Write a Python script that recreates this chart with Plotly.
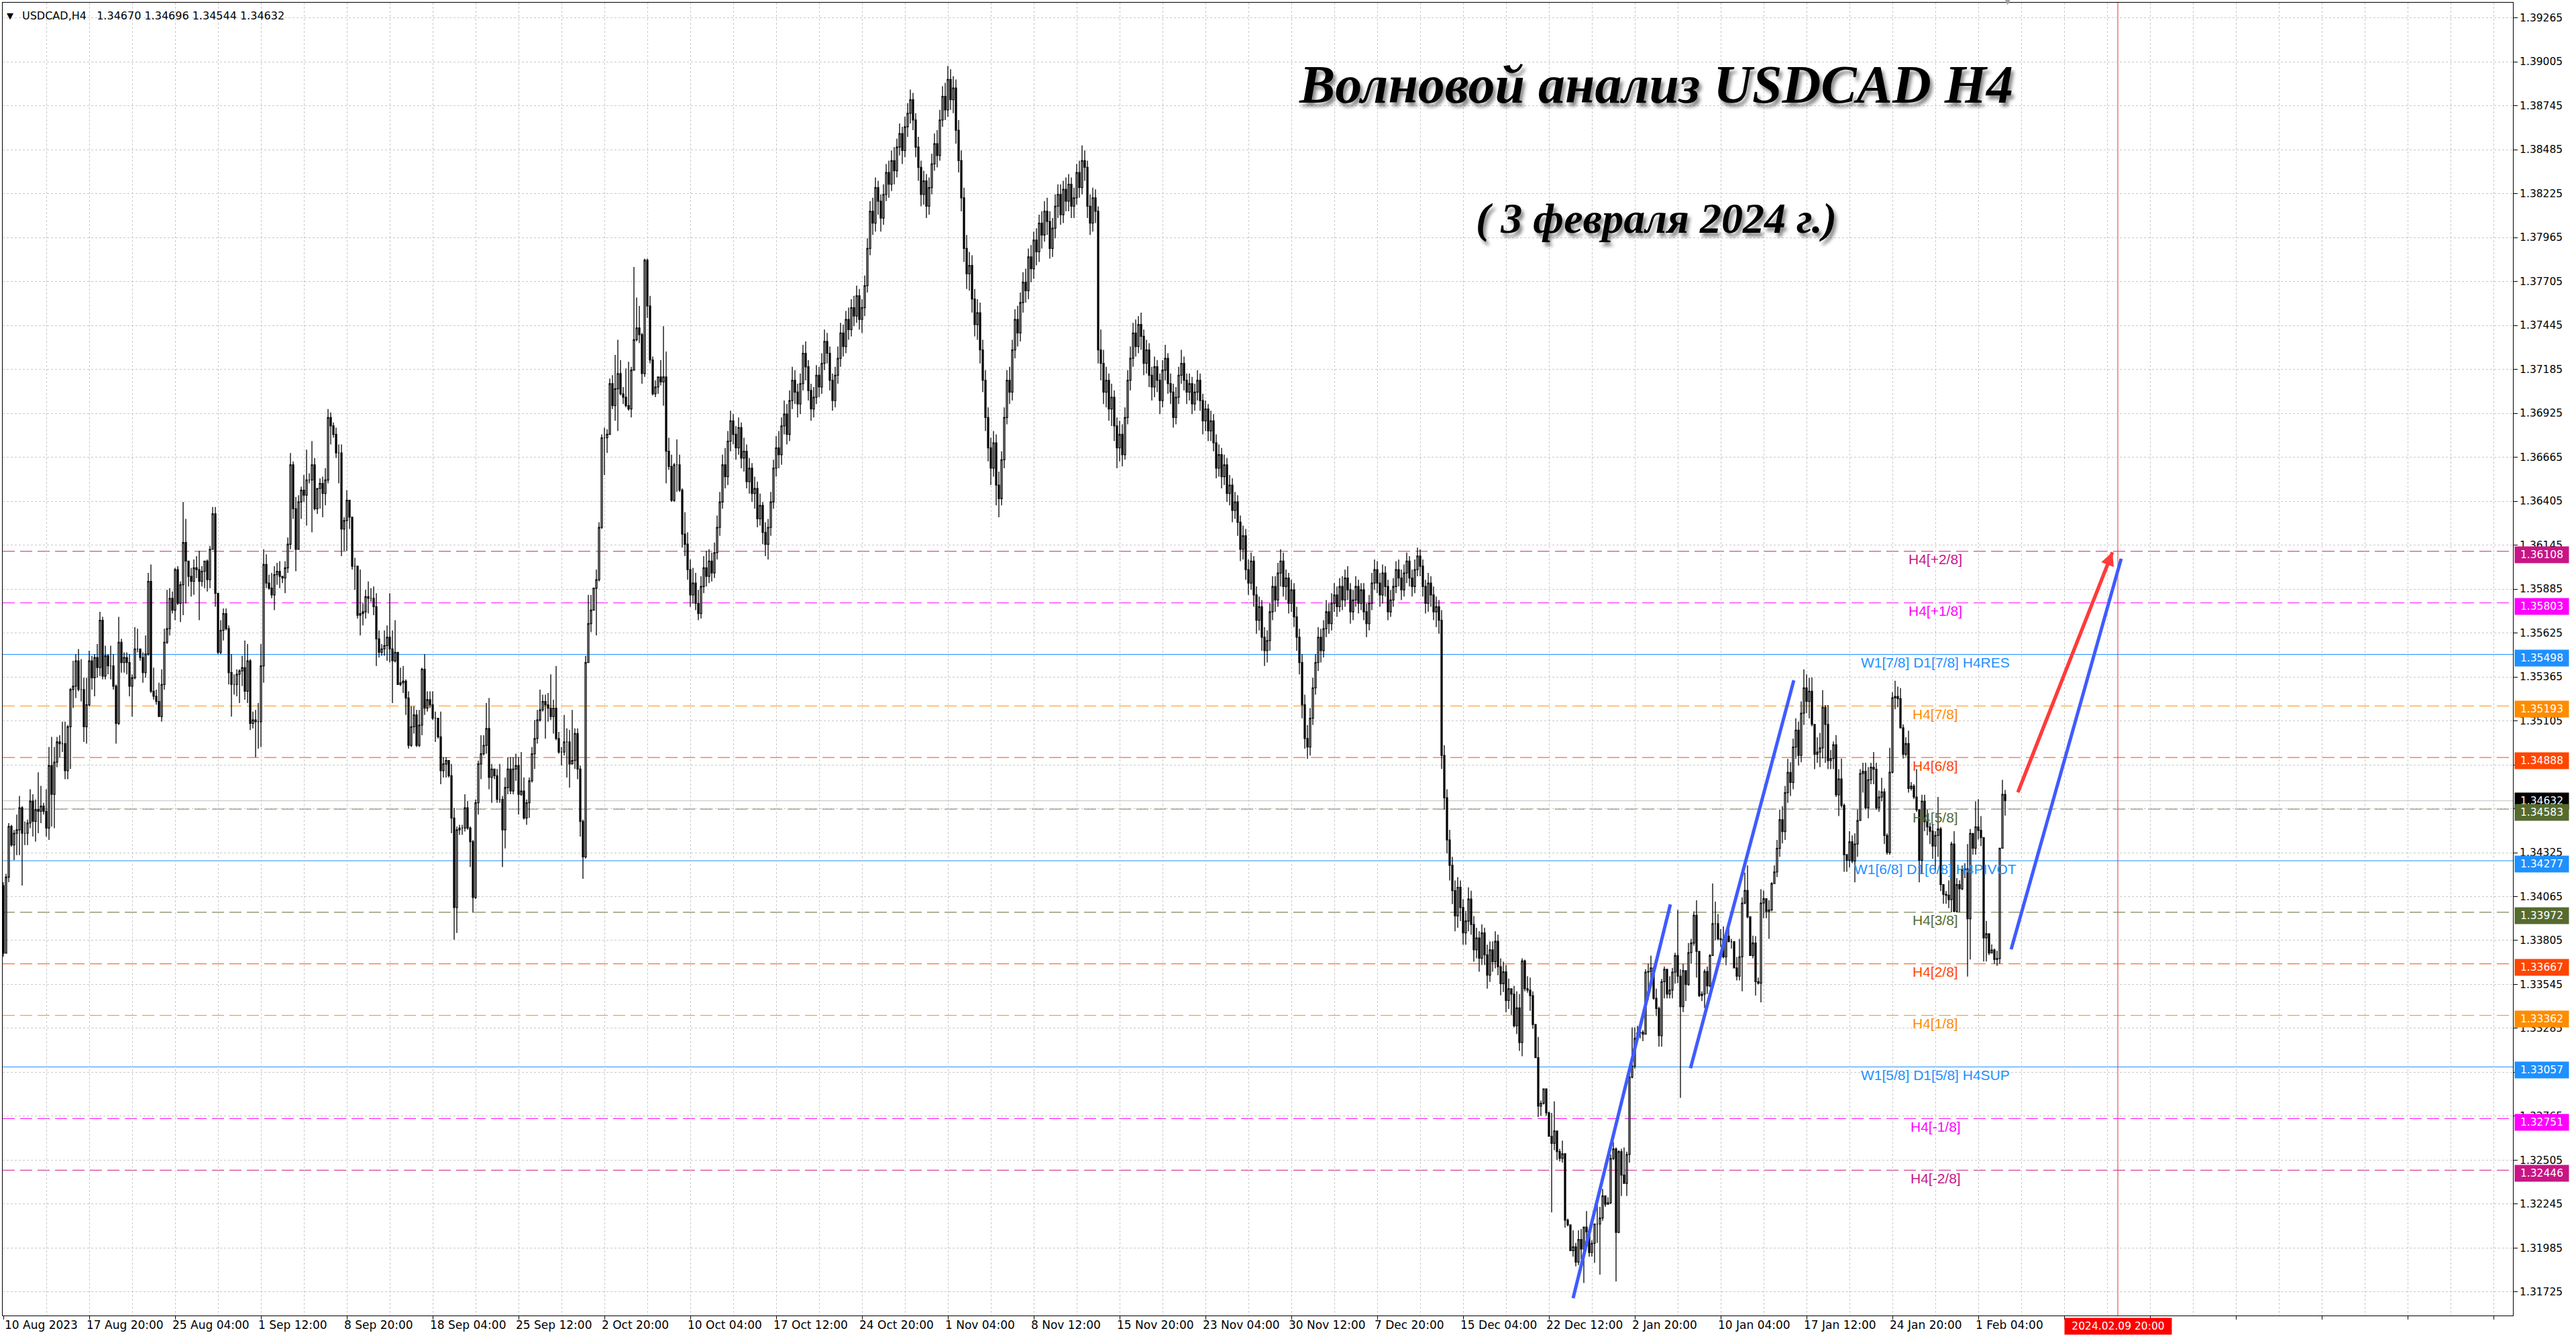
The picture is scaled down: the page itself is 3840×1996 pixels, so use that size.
import plotly.graph_objects as go

# ---------------- data ----------------
first_open = 1.3413
close = [
# 0
1.3373,1.3418,1.3448,1.3437,1.3444,1.3446,1.3459,1.3444,1.3444,1.3450,
1.3463,1.3451,1.3458,1.3457,1.3460,1.3457,1.3447,1.3484,1.3467,1.3486,
1.3498,1.3497,1.3497,1.3481,1.3507,1.3529,1.3531,1.3546,1.3529,1.3529,
1.3507,1.3520,1.3546,1.3536,1.3548,1.3542,1.3570,1.3537,1.3549,1.3543,
1.3543,1.3531,1.3509,1.3557,1.3545,1.3548,1.3545,1.3531,1.3536,1.3553,
# 50
1.3553,1.3548,1.3539,1.3550,1.3593,1.3528,1.3525,1.3522,1.3513,1.3532,
1.3557,1.3565,1.3583,1.3576,1.3600,1.3580,1.3591,1.3616,1.3605,1.3596,
1.3593,1.3601,1.3600,1.3593,1.3599,1.3605,1.3594,1.3612,1.3633,1.3586,
1.3551,1.3564,1.3574,1.3565,1.3539,1.3532,1.3532,1.3538,1.3540,1.3542,
1.3528,1.3546,1.3509,1.3511,1.3510,1.3510,1.3543,1.3603,1.3592,1.3589,
# 100
1.3585,1.3597,1.3599,1.3596,1.3595,1.3601,1.3615,1.3662,1.3636,1.3612,
1.3640,1.3647,1.3644,1.3653,1.3653,1.3662,1.3636,1.3648,1.3651,1.3645,
1.3653,1.3690,1.3685,1.3680,1.3669,1.3669,1.3624,1.3629,1.3641,1.3631,
1.3602,1.3602,1.3573,1.3574,1.3575,1.3584,1.3583,1.3583,1.3578,1.3559,
1.3551,1.3553,1.3555,1.3560,1.3553,1.3546,1.3551,1.3532,1.3533,1.3534,
# 150
1.3524,1.3496,1.3507,1.3514,1.3496,1.3508,1.3541,1.3518,1.3523,1.3520,
1.3512,1.3512,1.3501,1.3481,1.3485,1.3487,1.3478,1.3453,1.3400,1.3446,
1.3447,1.3447,1.3459,1.3447,1.3439,1.3406,1.3462,1.3485,1.3491,1.3496,
1.3506,1.3477,1.3482,1.3478,1.3464,1.3464,1.3446,1.3471,1.3482,1.3469,
1.3482,1.3484,1.3467,1.3469,1.3453,1.3462,1.3475,1.3491,1.3500,1.3511,
# 200
1.3517,1.3522,1.3520,1.3518,1.3513,1.3518,1.3500,1.3492,1.3492,1.3498,
1.3498,1.3485,1.3487,1.3503,1.3482,1.3451,1.3430,1.3545,1.3568,1.3576,
1.3589,1.3594,1.3625,1.3678,1.3678,1.3680,1.3710,1.3697,1.3707,1.3716,
1.3704,1.3702,1.3697,1.3695,1.3718,1.3736,1.3743,1.3739,1.3716,1.3783,
1.3756,1.3724,1.3704,1.3708,1.3714,1.3711,1.3714,1.3670,1.3661,1.3641,
# 250
1.3662,1.3662,1.3647,1.3621,1.3615,1.3600,1.3585,1.3592,1.3580,1.3574,
1.3590,1.3601,1.3596,1.3605,1.3598,1.3610,1.3625,1.3640,1.3662,1.3655,
1.3676,1.3688,1.3680,1.3672,1.3684,1.3666,1.3670,1.3652,1.3660,1.3645,
1.3648,1.3630,1.3638,1.3622,1.3615,1.3625,1.3640,1.3660,1.3672,1.3668,
1.3685,1.3692,1.3680,1.3700,1.3712,1.3705,1.3698,1.3710,1.3728,1.3720,
# 300
1.3706,1.3695,1.3702,1.3715,1.3708,1.3722,1.3735,1.3728,1.3712,1.3700,
1.3715,1.3725,1.3740,1.3732,1.3748,1.3742,1.3755,1.3750,1.3762,1.3748,
1.3755,1.3768,1.3790,1.3812,1.3805,1.3826,1.3818,1.3808,1.3822,1.3835,
1.3828,1.3842,1.3836,1.3850,1.3858,1.3848,1.3862,1.3870,1.3878,1.3866,
1.3850,1.3838,1.3822,1.3830,1.3815,1.3826,1.3840,1.3852,1.3845,1.3866,
# 350
1.3880,1.3872,1.3890,1.3878,1.3885,1.3860,1.3842,1.3820,1.3790,1.3775,
1.3780,1.3760,1.3745,1.3752,1.3730,1.3712,1.3690,1.3672,1.3660,1.3675,
1.3650,1.3642,1.3665,1.3690,1.3712,1.3705,1.3730,1.3748,1.3740,1.3758,
1.3770,1.3765,1.3785,1.3778,1.3795,1.3788,1.3805,1.3798,1.3812,1.3806,
1.3790,1.3802,1.3815,1.3822,1.3810,1.3825,1.3818,1.3828,1.3815,1.3820,
# 400
1.3835,1.3826,1.3842,1.3838,1.3815,1.3805,1.3820,1.3812,1.3730,1.3722,
1.3705,1.3712,1.3695,1.3702,1.3685,1.3672,1.3680,1.3668,1.3690,1.3712,
1.3725,1.3740,1.3732,1.3745,1.3738,1.3722,1.3730,1.3715,1.3708,1.3720,
1.3712,1.3700,1.3718,1.3725,1.3710,1.3705,1.3690,1.3702,1.3715,1.3722,
1.3712,1.3705,1.3710,1.3698,1.3705,1.3712,1.3700,1.3688,1.3695,1.3682,
# 450
1.3688,1.3675,1.3660,1.3668,1.3655,1.3662,1.3645,1.3650,1.3635,1.3640,
1.3628,1.3612,1.3620,1.3600,1.3592,1.3605,1.3585,1.3570,1.3578,1.3560,
1.3552,1.3558,1.3575,1.3590,1.3582,1.3598,1.3605,1.3590,1.3595,1.3580,
1.3588,1.3572,1.3560,1.3545,1.3520,1.3500,1.3495,1.3512,1.3530,1.3545,
1.3560,1.3552,1.3565,1.3575,1.3568,1.3580,1.3585,1.3578,1.3590,1.3582,
# 500
1.3595,1.3588,1.3575,1.3582,1.3590,1.3580,1.3588,1.3575,1.3568,1.3580,
1.3592,1.3600,1.3592,1.3585,1.3598,1.3590,1.3575,1.3582,1.3590,1.3600,
1.3595,1.3588,1.3598,1.3605,1.3595,1.3590,1.3600,1.3608,1.3602,1.3590,
1.3580,1.3592,1.3585,1.3575,1.3578,1.3570,1.3490,1.3465,1.3440,1.3425,
1.3410,1.3395,1.3412,1.3400,1.3385,1.3392,1.3405,1.3390,1.3375,1.3382,
# 550
1.3370,1.3385,1.3372,1.3360,1.3375,1.3368,1.3380,1.3365,1.3355,1.3362,
1.3345,1.3352,1.33488,1.33300,1.33406,1.33201,1.33684,1.33520,1.33512,1.33479,
1.33308,1.33112,1.32825,1.32842,1.32927,1.32785,1.32646,1.32605,1.32678,1.32556,
1.32515,1.32543,1.32150,1.32122,1.31970,1.31992,1.31902,1.32036,1.31980,1.32109,
1.32081,1.31959,1.32013,1.32127,1.32127,1.32163,1.32294,1.32245,1.32253,1.32515,
# 600
1.32572,1.32078,1.32556,1.32417,1.32368,1.32539,1.32997,1.33062,1.33226,1.33259,
1.33262,1.33251,1.33618,1.33622,1.33643,1.33463,1.33403,1.33242,1.33561,1.33635,
1.33488,1.33512,1.33618,1.33716,1.33594,1.33414,1.33627,1.33545,1.33733,1.33790,
1.33954,1.33741,1.33479,1.33488,1.33622,1.33537,1.33716,1.33905,1.33905,1.33815,
1.33811,1.33708,1.33831,1.33798,1.33798,1.33643,1.33594,1.33708,1.34027,1.34101,
# 650
1.33945,1.33716,1.33790,1.33561,1.33553,1.34027,1.34052,1.33978,1.33986,1.34142,
1.34210,1.3435,1.3452,1.3445,1.3468,1.3480,1.3474,1.3495,1.3505,1.3490,
1.3515,1.3530,1.3522,1.3528,1.35084,1.34907,1.34920,1.34945,1.35185,1.35084,
1.34869,1.34882,1.34963,1.34667,1.34761,1.34604,1.34313,1.34280,1.34389,1.34275,
1.34376,1.34515,1.34793,1.34806,1.34591,1.34756,1.34831,1.34819,1.34591,1.34654,
# 700
1.34685,1.34427,1.34326,1.34801,1.35241,1.35249,1.35236,1.35064,1.34907,1.34970,
1.34705,1.34718,1.34654,1.34579,1.34280,1.34629,1.34508,1.34477,1.34452,1.34364,
1.34427,1.34465,1.34136,1.34078,1.34073,1.34047,1.34376,1.33977,1.34136,1.34111,
1.34224,1.34229,1.33934,1.34439,1.34351,1.34477,1.34457,1.34414,1.33820,1.33845,
1.33731,1.33749,1.33693,1.33698,1.34351,1.34670,1.34632,
]
high = [
# 0
1.3415,1.3420,1.3450,1.3449,1.3446,1.3455,1.3466,1.3460,1.3451,1.3452,
1.3470,1.3467,1.3464,1.3480,1.3472,1.3462,1.3470,1.3495,1.3501,1.3495,
1.3501,1.3502,1.3510,1.3510,1.3508,1.3530,1.3546,1.3550,1.3553,1.3547,
1.3536,1.3536,1.3552,1.3549,1.3550,1.3556,1.3575,1.3572,1.3555,1.3550,
1.3555,1.3550,1.3532,1.3572,1.3559,1.3551,1.3551,1.3550,1.3538,1.3566,
# 50
1.3565,1.3553,1.3551,1.3561,1.3598,1.3603,1.3542,1.3529,1.3533,1.3541,
1.3565,1.3588,1.3589,1.3587,1.3601,1.3602,1.3593,1.3640,1.3630,1.3600,
1.3601,1.3606,1.3608,1.3611,1.3602,1.3605,1.3606,1.3614,1.3637,1.3637,
1.3586,1.3570,1.3577,1.3577,1.3567,1.3550,1.3538,1.3541,1.3541,1.3549,
1.3558,1.3556,1.3547,1.3516,1.3517,1.3521,1.3556,1.3612,1.3609,1.3597,
# 100
1.3598,1.3602,1.3604,1.3605,1.3596,1.3605,1.3619,1.3669,1.3664,1.3643,
1.3644,1.3649,1.3656,1.3671,1.3657,1.3676,1.3666,1.3648,1.3654,1.3655,
1.3660,1.3695,1.3693,1.3687,1.3684,1.3674,1.3674,1.3631,1.3647,1.3636,
1.3630,1.3607,1.3602,1.3600,1.3580,1.3588,1.3593,1.3589,1.3590,1.3586,
1.3564,1.3556,1.3564,1.3567,1.3586,1.3564,1.3570,1.3550,1.3542,1.3543,
# 150
1.3535,1.3528,1.3519,1.3519,1.3517,1.3517,1.3542,1.3550,1.3528,1.3528,
1.3528,1.3516,1.3512,1.3516,1.3489,1.3489,1.3487,1.3485,1.3459,1.3448,
1.3449,1.3449,1.3467,1.3463,1.3448,1.3440,1.3464,1.3487,1.3502,1.3502,
1.3521,1.3524,1.3485,1.3482,1.3482,1.3485,1.3466,1.3477,1.3489,1.3489,
1.3489,1.3491,1.3489,1.3492,1.3477,1.3464,1.3477,1.3495,1.3511,1.3517,
# 200
1.3529,1.3526,1.3526,1.3527,1.3538,1.3523,1.3543,1.3504,1.3495,1.3514,
1.3506,1.3505,1.3517,1.3506,1.3506,1.3484,1.3452,1.3549,1.3585,1.3585,
1.3589,1.3600,1.3628,1.3680,1.3684,1.3683,1.3713,1.3715,1.3727,1.3736,
1.3724,1.3708,1.3719,1.3723,1.3720,1.3779,1.3761,1.3756,1.3740,1.3784,
1.3784,1.3762,1.3726,1.3712,1.3714,1.3724,1.3744,1.3729,1.3678,1.3668,
# 250
1.3663,1.3677,1.3668,1.3648,1.3634,1.3622,1.3606,1.3601,1.3598,1.3588,
1.3596,1.3608,1.3611,1.3612,1.3610,1.3616,1.3632,1.3646,1.3668,1.3672,
1.3682,1.3694,1.3692,1.3685,1.3690,1.3687,1.3678,1.3674,1.3666,1.3663,
1.3655,1.3652,1.3645,1.3640,1.3628,1.3630,1.3646,1.3665,1.3679,1.3682,
1.3690,1.3700,1.3698,1.3706,1.3720,1.3718,1.3710,1.3716,1.3733,1.3735,
# 300
1.3724,1.3710,1.3708,1.3721,1.3720,1.3728,1.3742,1.3740,1.3732,1.3716,
1.3720,1.3732,1.3746,1.3745,1.3753,1.3755,1.3760,1.3762,1.3768,1.3766,
1.3760,1.3774,1.3796,1.3818,1.3820,1.3832,1.3830,1.3822,1.3828,1.3840,
1.3842,1.3848,1.3850,1.3855,1.3864,1.3862,1.3868,1.3876,1.3884,1.3882,
1.3870,1.3856,1.3842,1.3836,1.3834,1.3832,1.3846,1.3858,1.3860,1.3872,
# 350
1.3886,1.3888,1.3898,1.3896,1.3892,1.3890,1.3866,1.3848,1.3826,1.3798,
1.3788,1.3786,1.3766,1.3760,1.3758,1.3736,1.3718,1.3696,1.3678,1.3682,
1.3680,1.3658,1.3670,1.3696,1.3718,1.3720,1.3736,1.3754,1.3756,1.3764,
1.3776,1.3778,1.3790,1.3792,1.3800,1.3802,1.3810,1.3812,1.3818,1.3820,
1.3812,1.3808,1.3822,1.3828,1.3828,1.3830,1.3832,1.3834,1.3832,1.3826,
# 400
1.3840,1.3842,1.3851,1.3848,1.3842,1.3822,1.3826,1.3825,1.3815,1.3742,
1.3730,1.3720,1.3716,1.3710,1.3706,1.3690,1.3688,1.3686,1.3696,1.3718,
1.3732,1.3746,1.3748,1.3750,1.3752,1.3742,1.3736,1.3734,1.3720,1.3726,
1.3724,1.3716,1.3724,1.3733,1.3728,1.3716,1.3710,1.3708,1.3720,1.3730,
1.3726,1.3716,1.3716,1.3714,1.3710,1.3718,1.3716,1.3704,1.3700,1.3698,
# 450
1.3694,1.3692,1.3680,1.3674,1.3672,1.3668,1.3666,1.3656,1.3654,1.3646,
1.3644,1.3632,1.3626,1.3624,1.3606,1.3610,1.3608,1.3590,1.3584,1.3582,
1.3566,1.3564,1.3580,1.3596,1.3596,1.3604,1.3612,1.3610,1.3600,1.3598,
1.3594,1.3592,1.3578,1.3565,1.3550,1.3526,1.3508,1.3518,1.3536,1.3550,
1.3566,1.3565,1.3570,1.3582,1.3580,1.3586,1.3592,1.3590,1.3595,1.3596,
# 500
1.3600,1.3602,1.3592,1.3588,1.3596,1.3594,1.3592,1.3592,1.3580,1.3585,
1.3598,1.3606,1.3605,1.3598,1.3603,1.3602,1.3594,1.3588,1.3595,1.3605,
1.3606,1.3600,1.3603,1.3610,1.3608,1.3600,1.3606,1.3613,1.3612,1.3606,
1.3594,1.3598,1.3596,1.3590,1.3584,1.3582,1.3576,1.3496,1.3470,1.3446,
1.3430,1.3416,1.3418,1.3416,1.3405,1.3398,1.3412,1.3410,1.3395,1.3388,
# 550
1.3386,1.3390,1.3388,1.3378,1.3380,1.3380,1.3386,1.3384,1.3370,1.3368,
1.3366,1.3358,1.33512,1.33537,1.33504,1.33488,1.33700,1.33692,1.33594,1.33586,
1.33504,1.33311,1.33234,1.32858,1.32927,1.32927,1.32793,1.32785,1.32853,1.32572,
1.32572,1.32621,1.32548,1.32160,1.32122,1.32090,1.32016,1.32090,1.32098,1.32109,
1.32204,1.32098,1.32032,1.32131,1.32270,1.32229,1.32335,1.32270,1.32286,1.32539,
# 600
1.32613,1.32580,1.32564,1.32572,1.32580,1.32556,1.33046,1.33291,1.33291,1.33300,
1.33283,1.33275,1.33635,1.33667,1.33716,1.33643,1.33520,1.33414,1.33578,1.33651,
1.33635,1.33594,1.33643,1.33733,1.33986,1.33635,1.33667,1.33627,1.33790,1.33815,
1.33978,1.34043,1.33741,1.33504,1.33635,1.33651,1.33725,1.34142,1.34035,1.33962,
1.33872,1.33888,1.33856,1.33872,1.33815,1.33798,1.33708,1.33815,1.34060,1.34207,
# 650
1.34250,1.33913,1.33834,1.33831,1.33586,1.34109,1.34101,1.34043,1.34043,1.34150,
1.34250,1.3440,1.3458,1.3460,1.3472,1.3488,1.3486,1.3500,1.3512,1.3510,
1.3522,1.3541,1.3538,1.3536,1.35362,1.35084,1.35008,1.35034,1.35287,1.35198,
1.35198,1.34932,1.34983,1.35021,1.34819,1.34882,1.34616,1.34313,1.34452,1.34427,
1.34439,1.34579,1.34819,1.34857,1.34857,1.34831,1.34857,1.34920,1.34857,1.34692,
# 700
1.34768,1.34705,1.34439,1.34945,1.35274,1.35342,1.35307,1.35299,1.35084,1.35008,
1.35046,1.34743,1.34730,1.34819,1.34579,1.34667,1.34667,1.34579,1.34503,1.34490,
1.34452,1.34654,1.34477,1.34136,1.34098,1.34161,1.34389,1.34452,1.34174,1.34161,
1.34250,1.34262,1.34376,1.34465,1.34427,1.34629,1.34642,1.34541,1.34414,1.33921,
1.33820,1.33782,1.33757,1.33744,1.34351,1.34756,1.34696,
]
low = [
# 0
1.3371,1.3376,1.3415,1.3436,1.3428,1.3431,1.3431,1.3413,1.3437,1.3437,
1.3447,1.3442,1.3439,1.3444,1.3450,1.3455,1.3442,1.3440,1.3448,1.3447,
1.3483,1.3489,1.3492,1.3476,1.3476,1.3482,1.3518,1.3524,1.3528,1.3522,
1.3498,1.3497,1.3519,1.3529,1.3525,1.3536,1.3537,1.3535,1.3535,1.3538,
1.3535,1.3529,1.3497,1.3508,1.3539,1.3539,1.3538,1.3525,1.3513,1.3535,
# 50
1.3551,1.3546,1.3533,1.3536,1.3549,1.3527,1.3523,1.3520,1.3513,1.3510,
1.3529,1.3556,1.3561,1.3574,1.3570,1.3579,1.3569,1.3573,1.3580,1.3590,
1.3584,1.3585,1.3595,1.3570,1.3590,1.3589,1.3587,1.3589,1.3612,1.3578,
1.3550,1.3550,1.3558,1.3564,1.3532,1.3513,1.3526,1.3525,1.3521,1.3531,
1.3523,1.3521,1.3505,1.3506,1.3489,1.3494,1.3495,1.3533,1.3589,1.3588,
# 100
1.3583,1.3576,1.3591,1.3589,1.3592,1.3586,1.3598,1.3612,1.3630,1.3599,
1.3612,1.3630,1.3640,1.3626,1.3651,1.3622,1.3635,1.3633,1.3636,1.3631,
1.3638,1.3651,1.3674,1.3678,1.3666,1.3651,1.3608,1.3611,1.3611,1.3624,
1.3600,1.3588,1.3571,1.3561,1.3567,1.3571,1.3574,1.3581,1.3573,1.3543,
1.3548,1.3549,1.3549,1.3546,1.3545,1.3521,1.3545,1.3532,1.3531,1.3527,
# 150
1.3514,1.3494,1.3495,1.3503,1.3495,1.3495,1.3502,1.3514,1.3516,1.3518,
1.3511,1.3498,1.3500,1.3473,1.3477,1.3477,1.3477,1.3444,1.3381,1.3385,
1.3443,1.3443,1.3445,1.3446,1.3424,1.3397,1.3405,1.3455,1.3476,1.3490,
1.3491,1.3470,1.3462,1.3476,1.3462,1.3462,1.3424,1.3435,1.3467,1.3467,
1.3467,1.3475,1.3455,1.3466,1.3452,1.3449,1.3453,1.3474,1.3482,1.3497,
# 200
1.3510,1.3516,1.3500,1.3510,1.3511,1.3503,1.3499,1.3491,1.3484,1.3490,
1.3477,1.3471,1.3485,1.3482,1.3476,1.3442,1.3417,1.3429,1.3545,1.3563,
1.3576,1.3561,1.3593,1.3624,1.3656,1.3669,1.3680,1.3695,1.3688,1.3682,
1.3703,1.3698,1.3696,1.3694,1.3690,1.3718,1.3735,1.3734,1.3710,1.3714,
1.3749,1.3722,1.3703,1.3702,1.3704,1.3709,1.3697,1.3651,1.3659,1.3640,
# 250
1.3640,1.3646,1.3646,1.3613,1.3608,1.3594,1.3578,1.3580,1.3576,1.3570,
1.3571,1.3586,1.3590,1.3592,1.3593,1.3595,1.3606,1.3620,1.3636,1.3648,
1.3650,1.3670,1.3674,1.3665,1.3668,1.3660,1.3658,1.3648,1.3645,1.3640,
1.3636,1.3625,1.3626,1.3615,1.3608,1.3606,1.3620,1.3636,1.3655,1.3660,
1.3662,1.3680,1.3674,1.3676,1.3695,1.3698,1.3690,1.3692,1.3706,1.3712,
# 300
1.3700,1.3688,1.3690,1.3698,1.3702,1.3704,1.3718,1.3722,1.3706,1.3694,
1.3696,1.3710,1.3720,1.3726,1.3728,1.3736,1.3738,1.3744,1.3746,1.3742,
1.3740,1.3750,1.3764,1.3786,1.3798,1.3800,1.3810,1.3800,1.3804,1.3818,
1.3820,1.3824,1.3828,1.3832,1.3845,1.3840,1.3844,1.3856,1.3864,1.3860,
1.3844,1.3830,1.3815,1.3816,1.3808,1.3810,1.3822,1.3836,1.3838,1.3842,
# 350
1.3862,1.3866,1.3868,1.3872,1.3870,1.3852,1.3835,1.3812,1.3782,1.3766,
1.3765,1.3752,1.3738,1.3736,1.3722,1.3705,1.3682,1.3664,1.3650,1.3655,
1.3638,1.3631,1.3638,1.3660,1.3686,1.3698,1.3700,1.3725,1.3732,1.3735,
1.3752,1.3758,1.3760,1.3770,1.3772,1.3780,1.3782,1.3790,1.3794,1.3798,
1.3784,1.3785,1.3796,1.3808,1.3804,1.3805,1.3812,1.3812,1.3808,1.3808,
# 400
1.3816,1.3820,1.3822,1.3830,1.3808,1.3798,1.3800,1.3805,1.3722,1.3712,
1.3698,1.3696,1.3688,1.3685,1.3676,1.3660,1.3664,1.3661,1.3665,1.3686,
1.3706,1.3720,1.3726,1.3728,1.3730,1.3715,1.3716,1.3708,1.3700,1.3702,
1.3705,1.3692,1.3696,1.3712,1.3704,1.3698,1.3684,1.3686,1.3698,1.3710,
1.3706,1.3698,1.3700,1.3692,1.3694,1.3700,1.3694,1.3680,1.3682,1.3676,
# 450
1.3676,1.3670,1.3654,1.3655,1.3648,1.3650,1.3640,1.3638,1.3628,1.3630,
1.3620,1.3605,1.3606,1.3594,1.3585,1.3588,1.3578,1.3562,1.3564,1.3552,
1.3543,1.3545,1.3552,1.3570,1.3575,1.3578,1.3590,1.3584,1.3582,1.3574,
1.3575,1.3566,1.3552,1.3538,1.3512,1.3494,1.3488,1.3490,1.3508,1.3526,
1.3540,1.3545,1.3548,1.3560,1.3562,1.3564,1.3575,1.3572,1.3575,1.3576,
# 500
1.3578,1.3582,1.3568,1.3570,1.3578,1.3574,1.3576,1.3570,1.3560,1.3564,
1.3576,1.3588,1.3586,1.3578,1.3580,1.3584,1.3570,1.3572,1.3578,1.3586,
1.3590,1.3582,1.3584,1.3592,1.3590,1.3584,1.3586,1.3596,1.3596,1.3584,
1.3574,1.3575,1.3578,1.3570,1.3566,1.3562,1.3482,1.3458,1.3432,1.3416,
1.3402,1.3386,1.3388,1.3392,1.3378,1.3378,1.3386,1.3384,1.3368,1.3370,
# 550
1.3362,1.3366,1.3366,1.3352,1.3356,1.3362,1.3364,1.3360,1.3348,1.3350,
1.3338,1.3340,1.33365,1.33291,1.33251,1.33152,1.33120,1.33504,1.33496,1.33389,
1.33283,1.33112,1.32760,1.32768,1.32834,1.32768,1.32646,1.32196,1.32564,1.32507,
1.32498,1.32490,1.32106,1.32114,1.31970,1.31934,1.31877,1.31885,1.31918,1.31779,
1.32032,1.31934,1.31934,1.31898,1.32016,1.31828,1.32147,1.32229,1.32245,1.32245,
# 600
1.32507,1.31787,1.32073,1.32294,1.32368,1.32294,1.32490,1.32989,1.33046,1.33226,
1.33226,1.33210,1.33259,1.33455,1.33553,1.33455,1.33357,1.33177,1.33177,1.33463,
1.33463,1.33463,1.33463,1.33550,1.33553,1.32874,1.33381,1.33447,1.33537,1.33667,
1.33774,1.33586,1.33471,1.33447,1.33406,1.33488,1.33528,1.33716,1.33806,1.33806,
1.33766,1.33700,1.33659,1.33798,1.33757,1.33643,1.33569,1.33569,1.33504,1.34019,
# 650
1.33937,1.33716,1.33700,1.33479,1.33545,1.33439,1.33937,1.33937,1.33815,1.33978,
1.34140,1.3418,1.3430,1.3438,1.3440,1.3462,1.3466,1.3470,1.3488,1.3484,
1.3486,1.3508,1.3515,1.3512,1.35072,1.34819,1.34857,1.34831,1.34882,1.34857,
1.34819,1.34819,1.34819,1.34654,1.34541,1.34591,1.34212,1.34212,1.34237,1.34262,
1.34149,1.34300,1.34515,1.34680,1.34579,1.34528,1.34730,1.34730,1.34579,1.34566,
# 700
1.34629,1.34376,1.34313,1.34313,1.34793,1.35173,1.35185,1.35059,1.34882,1.34895,
1.34680,1.34692,1.34642,1.34566,1.34149,1.34199,1.34452,1.34427,1.34376,1.34288,
1.34224,1.34300,1.34098,1.34022,1.34022,1.33997,1.33972,1.33972,1.33972,1.33972,
1.34103,1.34174,1.33592,1.33693,1.34313,1.34313,1.34402,1.34364,1.33681,1.33681,
1.33719,1.33731,1.33668,1.33655,1.33668,1.34427,1.34544,
]

x_tick_labels = ["10 Aug 2023", "17 Aug 20:00", "25 Aug 04:00", "1 Sep 12:00", "8 Sep 20:00",
                 "18 Sep 04:00", "25 Sep 12:00", "2 Oct 20:00", "10 Oct 04:00", "17 Oct 12:00",
                 "24 Oct 20:00", "1 Nov 04:00", "8 Nov 12:00", "15 Nov 20:00", "23 Nov 04:00",
                 "30 Nov 12:00", "7 Dec 20:00", "15 Dec 04:00", "22 Dec 12:00", "2 Jan 20:00",
                 "10 Jan 04:00", "17 Jan 12:00", "24 Jan 20:00", "1 Feb 04:00"]
x_label_step = 32
grid_step = 16

y_tick_values = [1.39265, 1.39005, 1.38745, 1.38485, 1.38225, 1.37965, 1.37705, 1.37445,
                 1.37185, 1.36925, 1.36665, 1.36405, 1.36145, 1.35885, 1.35625, 1.35365,
                 1.35105, 1.34845, 1.34585, 1.34325, 1.34065, 1.33805, 1.33545, 1.33285,
                 1.33025, 1.32765, 1.32505, 1.32245, 1.31985, 1.31725]

level_values = [1.36108, 1.35803, 1.35498, 1.35193, 1.34888, 1.34583, 1.34277,
                1.33972, 1.33667, 1.33362, 1.33057, 1.32751, 1.32446]
level_names = ["H4[+2/8]", "H4[+1/8]", "W1[7/8] D1[7/8] H4RES", "H4[7/8]", "H4[6/8]",
               "H4[5/8]", "W1[6/8] D1[6/8] H4PIVOT", "H4[3/8]", "H4[2/8]", "H4[1/8]",
               "W1[5/8] D1[5/8] H4SUP", "H4[-1/8]", "H4[-2/8]"]
level_colors = ["#C71585", "#FF00FF", "#1E90FF", "#FF8C00", "#FF4500", "#556B2F", "#1E90FF",
                "#556B2F", "#FF4500", "#FF8C00", "#1E90FF", "#FF00FF", "#C71585"]
level_solid = [False, False, True, False, False, False, True,
               False, False, False, True, False, False]
level_label_bar = 720

header_text = "USDCAD,H4\u00a0\u00a0 1.34670 1.34696 1.34544 1.34632"
current_price = 1.34632
future_line_bar = 788
future_line_label = "2024.02.09 20:00"

wave_x0 = [585.0, 628.75, 748.25]
wave_y0 = [1.31689, 1.33049, 1.33753]
wave_x1 = [621.25, 667.25, 789.25]
wave_y1 = [1.34019, 1.35345, 1.36064]
arrow_x0, arrow_y0 = 750.75, 1.34682
arrow_x1, arrow_y1 = 786.0, 1.36103

title_1 = "Волновой анализ USDCAD H4"
title_2 = "( 3 февраля 2024 г.)"

# ---------------- build ----------------
n = min(len(close), len(high), len(low))
close, high, low = close[:n], high[:n], low[:n]
bars = list(range(n))
opens = [first_open] + close[:-1]
highs = [max(h, o, c) for h, o, c in zip(high, opens, close)]
lows = [min(l, o, c) for l, o, c in zip(low, opens, close)]

W, H = 3840, 1996
ML, MR, MT, MB = 4, 94, 4, 35
X_MIN, X_MAX = -0.25, 935.25
Y_MIN, Y_MAX = 1.315860, 1.393544

fig = go.Figure()

fig.add_trace(go.Candlestick(
    x=bars, open=opens, high=highs, low=lows, close=close,
    increasing=dict(line=dict(color="black", width=1.3), fillcolor="white"),
    decreasing=dict(line=dict(color="black", width=1.3), fillcolor="black"),
    whiskerwidth=0, showlegend=False, hoverinfo="skip"))

for x0, y0, x1, y1 in zip(wave_x0, wave_y0, wave_x1, wave_y1):
    fig.add_trace(go.Scatter(x=[x0, x1], y=[y0, y1], mode="lines",
                             line=dict(color="#3F5BFF", width=5),
                             showlegend=False, hoverinfo="skip"))
fig.add_trace(go.Scatter(x=[arrow_x0, arrow_x1], y=[arrow_y0, arrow_y1], mode="lines",
                         line=dict(color="#FF3B3B", width=5),
                         showlegend=False, hoverinfo="skip"))

shapes = []
for v, c, solid in zip(level_values, level_colors, level_solid):
    shapes.append(dict(type="line", xref="paper", x0=0, x1=1, yref="y", y0=v, y1=v,
                       line=dict(color=c, width=1, dash="solid" if solid else "18px,8px"),
                       layer="below"))
shapes.append(dict(type="line", xref="paper", x0=0, x1=1, yref="y", y0=current_price,
                   y1=current_price, line=dict(color="#C0C0C0", width=1), layer="below"))
shapes.append(dict(type="line", xref="x", x0=future_line_bar, x1=future_line_bar,
                   yref="paper", y0=0, y1=1, line=dict(color="#E03030", width=1), layer="below"))

ann = []
MONO = "DejaVu Sans"
for k, t in enumerate(x_tick_labels):
    ann.append(dict(x=k * x_label_step, y=0, xref="x", yref="paper", text=t, showarrow=False,
                    xanchor="left", yanchor="top", xshift=(0 if k == 0 else -6), yshift=-2,
                    font=dict(family=MONO, size=17, color="black")))
for v, c, name in zip(level_values, level_colors, level_names):
    ann.append(dict(x=level_label_bar, y=v, xref="x", yref="y", text=name, showarrow=False,
                    xanchor="center", yanchor="middle", yshift=-12,
                    font=dict(family="Liberation Sans", size=21, color=c)))
ann.append(dict(x=1, y=current_price, xref="paper", yref="y", text=f"{current_price:.5f}",
                showarrow=False, xanchor="left", yanchor="middle", xshift=2, width=78, height=22,
                bgcolor="black", font=dict(family=MONO, size=15.5, color="white")))
for v, c in zip(level_values, level_colors):
    ann.append(dict(x=1, y=v, xref="paper", yref="y", text=f"{v:.5f}", showarrow=False,
                    xanchor="left", yanchor="middle", xshift=2, yshift=-5, width=78, height=22,
                    bgcolor=c, font=dict(family=MONO, size=15.5, color="white")))
ann.append(dict(x=future_line_bar, y=0, xref="x", yref="paper", text=future_line_label,
                showarrow=False, xanchor="center", yanchor="top", yshift=-3, width=157, height=22,
                bgcolor="#FF0000", font=dict(family=MONO, size=15.5, color="white")))
ann.append(dict(x=0, y=1, xref="paper", yref="paper", text="\u25BC", showarrow=False,
                xanchor="left", yanchor="top", xshift=4, yshift=-10,
                font=dict(family=MONO, size=13, color="black")))
ann.append(dict(x=0, y=1, xref="paper", yref="paper", text=header_text, showarrow=False,
                xanchor="left", yanchor="top", xshift=27, yshift=-8,
                font=dict(family=MONO, size=16, color="black")))
ann.append(dict(x=0.7988, y=1, xref="paper", yref="paper", text="\u25BC", showarrow=False,
                xanchor="center", yanchor="middle", yshift=2,
                font=dict(family=MONO, size=12, color="#A0A0A0")))
ann.append(dict(x=0.6587, y=0.9376, xref="paper", yref="paper", text=title_1, showarrow=False,
                xanchor="center", yanchor="middle",
                font=dict(family="Liberation Serif", size=80, color="black", style="italic",
                          weight=700, shadow="4px 6px 5px rgba(0,0,0,0.45)")))
ann.append(dict(x=0.6587, y=0.8357, xref="paper", yref="paper", text=title_2, showarrow=False,
                xanchor="center", yanchor="middle",
                font=dict(family="Liberation Serif", size=64, color="black", style="italic",
                          weight=700, shadow="4px 6px 5px rgba(0,0,0,0.45)")))
ann.append(dict(x=arrow_x1, y=arrow_y1, ax=arrow_x0, ay=arrow_y0, xref="x", yref="y",
                axref="x", ayref="y", text="", showarrow=True, arrowhead=2, arrowsize=0.8,
                arrowwidth=5, arrowcolor="#FF3B3B"))

fig.update_layout(
    width=W, height=H, autosize=False,
    margin=dict(l=ML, r=MR, t=MT, b=MB, pad=0),
    paper_bgcolor="white", plot_bgcolor="white",
    shapes=shapes, annotations=ann, showlegend=False,
    xaxis=dict(range=[X_MIN, X_MAX], rangeslider=dict(visible=False), showline=True,
               linecolor="black", linewidth=1, mirror=True,
               tickmode="linear", tick0=0, dtick=x_label_step, ticks="outside", ticklen=5,
               tickcolor="black", showticklabels=False, showgrid=True,
               gridcolor="#C8C8C8", griddash="3px,3px", gridwidth=1, zeroline=False,
               minor=dict(tickmode="linear", tick0=0, dtick=grid_step, showgrid=True,
                          gridcolor="#C8C8C8", griddash="3px,3px", ticks="")),
    yaxis=dict(range=[Y_MIN, Y_MAX], side="right", showline=True, linecolor="black",
               linewidth=1, mirror=True, tickmode="array", tickvals=y_tick_values,
               ticktext=[f"{v:.5f}" for v in y_tick_values], ticks="outside", ticklen=6,
               tickcolor="black", showgrid=True, gridcolor="#C8C8C8", griddash="3px,3px",
               zeroline=False, tickfont=dict(family=MONO, size=15.5, color="black")),
)

fig.write_html("out.html", config={"displayModeBar": False},
               post_script="document.body.style.margin='0';document.body.style.overflow='hidden';")
